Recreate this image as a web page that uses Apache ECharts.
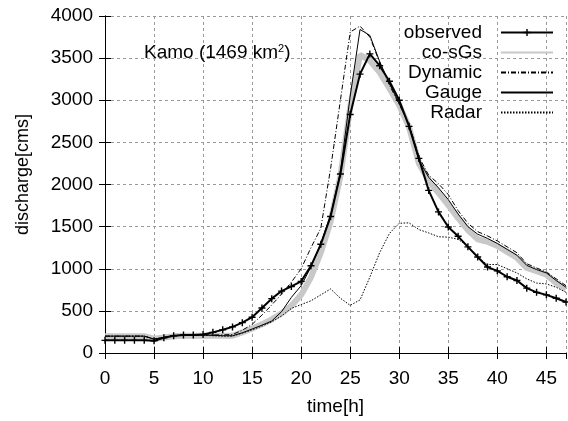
<!DOCTYPE html>
<html><head><meta charset="utf-8">
<script src="https://cdn.jsdelivr.net/npm/echarts@6/dist/echarts.min.js"></script>
<style>html,body{margin:0;padding:0;background:#fff}#c{width:568px;height:421px}</style>
</head><body><div id="c"></div>
<script>
const hours = [0,1,2,3,4,5,6,7,8,9,10,11,12,13,14,15,16,17,18,19,20,21,22,23,24,25,26,27,28,29,30,31,32,33,34,35,36,37,38,39,40,41,42,43,44,45,46,47];
const observed = [150,150,150,150,150,145,180,205,215,215,220,245,275,310,360,425,535,645,735,790,850,1035,1290,1620,2125,2830,3310,3550,3410,3225,3000,2690,2310,1930,1675,1495,1385,1260,1140,1020,975,905,860,770,720,690,650,605];
const coSGs = [200,200,200,200,200,170,185,200,205,205,205,205,205,205,245,290,340,400,470,560,690,900,1190,1560,2100,2920,3540,3470,3330,3140,2940,2680,2250,2050,1900,1755,1600,1460,1350,1320,1270,1200,1130,1010,970,930,830,760];
const dynamic = [200,200,200,200,200,165,185,205,210,210,215,215,215,220,270,340,450,570,700,840,1000,1250,1480,2190,3000,3810,3880,3750,3450,3180,2950,2720,2330,2110,2010,1880,1690,1540,1440,1390,1330,1260,1190,1060,1010,960,880,800];
const gauge = [200,200,200,200,200,165,185,205,210,210,215,210,205,205,240,285,330,380,490,660,800,1020,1300,1640,2150,3050,3840,3770,3460,3200,2960,2700,2290,2085,1960,1820,1650,1500,1410,1360,1300,1230,1160,1040,990,950,860,780];
const radar = [200,200,200,200,200,165,185,205,210,210,210,205,200,200,235,275,320,370,440,530,575,620,690,760,650,565,630,900,1190,1420,1540,1545,1465,1425,1380,1375,1350,1265,1130,1050,1050,1000,950,880,830,820,780,720];
const seriesNames = ['observed','co-sGs','Dynamic','Gauge','Radar'];
const titleText = 'Kamo (1469 km{sup|2})';

const pairs = arr => hours.map((h, i) => [h, arr[i]]);
const FONT = 'Liberation Sans';
const FS = 19;
const chart = echarts.init(document.getElementById('c'), null, {renderer: 'canvas'});
const thin = (type) => ({color: '#000', width: 1, type: type});
const legendData = seriesNames.map(n => n === 'observed' ? {name: n} : {name: n, itemStyle: {opacity: 0}});
chart.setOption({
  animation: false,
  backgroundColor: '#fff',
  textStyle: {fontFamily: FONT},
  title: {
    text: titleText, left: 144, top: 43, padding: 0,
    textStyle: {fontFamily: FONT, fontSize: FS, fontWeight: 'normal', color: '#000',
      rich: {sup: {fontSize: 11, verticalAlign: 'top', padding: [0,0,8,0], fontFamily: FONT, color: '#000'}}}
  },
  grid: {left: 105, right: 2, top: 16, bottom: 62},
  legend: {
    orient: 'vertical', right: 9, top: 18, align: 'right',
    itemWidth: 52, itemHeight: 9, itemGap: 1,
    data: legendData,
    textStyle: {fontFamily: FONT, fontSize: FS, color: '#000', lineHeight: 19, padding: [0, 14, 0, 0]},
    selectedMode: false
  },
  xAxis: [{
    type: 'value', min: 0, max: 47, interval: 5, position: 'bottom',
    axisLine: {lineStyle: {color: '#000', width: 1}},
    axisTick: {inside: true, length: 6, lineStyle: {color: '#000'}},
    axisLabel: {fontFamily: FONT, fontSize: FS, color: '#000', margin: 16, showMaxLabel: false},
    splitLine: {show: true, lineStyle: {color: '#9a9a9a', type: [3, 3], width: 1}},
    name: 'time[h]', nameLocation: 'middle', nameGap: 44,
    nameTextStyle: {fontFamily: FONT, fontSize: FS, color: '#000'}
  }, {
    type: 'value', min: 0, max: 47, interval: 5, position: 'top',
    axisLine: {show: true, lineStyle: {color: '#000', width: 1}},
    axisTick: {show: true, inside: true, length: 6, lineStyle: {color: '#000'}},
    axisLabel: {show: false}, splitLine: {show: false}
  }],
  yAxis: [{
    type: 'value', min: 0, max: 4000, interval: 500, position: 'left',
    axisLine: {show: true, lineStyle: {color: '#000', width: 1}},
    axisTick: {show: true, inside: true, length: 6, lineStyle: {color: '#000'}},
    axisLabel: {fontFamily: FONT, fontSize: FS, color: '#000', margin: 12, formatter: v => String(v)},
    splitLine: {show: true, lineStyle: {color: '#9a9a9a', type: [3, 3], width: 1}},
    name: 'discharge[cms]', nameLocation: 'middle', nameGap: 73, nameRotate: 90,
    nameTextStyle: {fontFamily: FONT, fontSize: 18, color: '#000', padding: [0, 0, 0, 20]}
  }, {
    type: 'value', min: 0, max: 4000, interval: 500, position: 'right',
    axisLine: {show: true, lineStyle: {color: '#000', width: 1}},
    axisTick: {show: true, inside: true, length: 6, lineStyle: {color: '#000'}},
    axisLabel: {show: false}, splitLine: {show: false}
  }],
  series: [
    {name: 'co-sGs', type: 'line', data: pairs(coSGs), symbol: 'none', z: 2,
      lineStyle: {color: '#c8c8c8', width: 6}, itemStyle: {color: '#c8c8c8'}},
    {name: 'Dynamic', type: 'line', data: pairs(dynamic), symbol: 'none', z: 3,
      lineStyle: thin([5, 2, 1, 2]), itemStyle: {color: '#000'}},
    {name: 'Gauge', type: 'line', data: pairs(gauge), symbol: 'none', z: 3,
      lineStyle: thin('solid'), itemStyle: {color: '#000'}},
    {name: 'Radar', type: 'line', data: pairs(radar), symbol: 'none', z: 3,
      lineStyle: thin([1.5, 1.5]), itemStyle: {color: '#000'}},
    {name: 'observed', type: 'line', data: pairs(observed), z: 4,
      symbol: 'path://M4,0h2v10h-2z M0,4h10v2h-10z', symbolSize: 7, showSymbol: true,
      lineStyle: {color: '#000', width: 2}, itemStyle: {color: '#000'}}
  ]
});
</script>
</body></html>
